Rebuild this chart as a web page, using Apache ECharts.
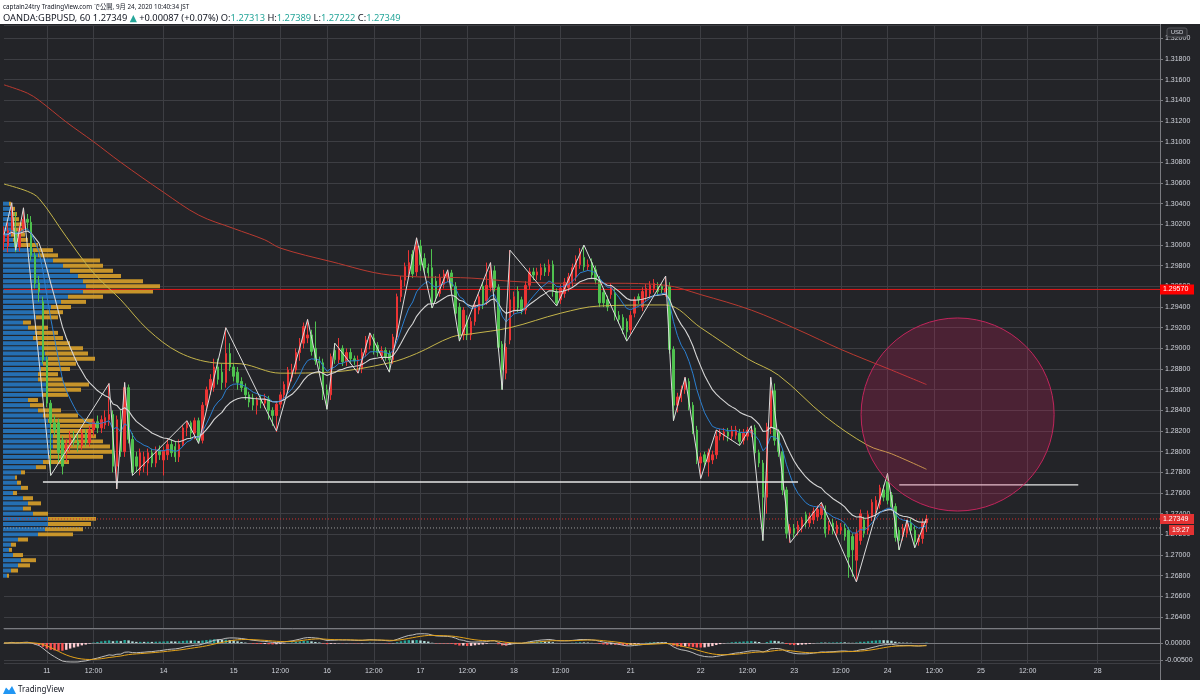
<!DOCTYPE html>
<html><head><meta charset="utf-8">
<script src="https://cdn.jsdelivr.net/npm/echarts/dist/echarts.min.js"></script>
<style>html,body{margin:0;padding:0;background:#fff}#c{width:1200px;height:700px}</style>
</head><body><div id="c"></div>
<script>
// ---------- DATA ----------
const barCount = 298; // hourly slots incl. future space
const tickLabels = [[11,'11'],[23,'12:00'],[41,'14'],[59,'15'],[71,'12:00'],[83,'16'],[95,'12:00'],[107,'17'],[119,'12:00'],[131,'18'],[143,'12:00'],[161,'21'],[179,'22'],[191,'12:00'],[203,'23'],[215,'12:00'],[227,'24'],[239,'12:00'],[251,'25'],[263,'12:00'],[281,'28']];
// [open, close, low, high]
const ohlc = [
[1.3003,1.3010,1.2995,1.3018],[1.2999,1.3014,1.2993,1.3022],[1.3014,1.3030,1.3010,1.3041],[1.3013,1.2998,1.2993,1.3032],[1.2998,1.3016,1.2994,1.3020],
[1.3016,1.3025,1.3012,1.3036],[1.3025,1.3022,1.3015,1.3030],[1.3022,1.2990,1.2985,1.3028],[1.2990,1.2963,1.2958,1.2993],[1.2963,1.2955,1.2945,1.2970],
[1.2945,1.2889,1.2885,1.2950],[1.2889,1.2847,1.2843,1.2892],[1.2847,1.2828,1.2777,1.2850],[1.2828,1.2821,1.2815,1.2835],[1.2828,1.2799,1.2790,1.2832],
[1.2811,1.2786,1.2778,1.2815],[1.2799,1.2808,1.2790,1.2812],[1.2805,1.2814,1.2800,1.2820],[1.2814,1.2810,1.2805,1.2820],[1.2810,1.2806,1.2800,1.2818],
[1.2806,1.2818,1.2802,1.2822],[1.2818,1.2809,1.2805,1.2822],[1.2809,1.2821,1.2805,1.2825],[1.2821,1.2829,1.2815,1.2832],[1.2829,1.2823,1.2818,1.2835],
[1.2823,1.2831,1.2818,1.2835],[1.2826,1.2833,1.2822,1.2840],[1.2831,1.2836,1.2825,1.2866],[1.2836,1.2786,1.2780,1.2840],[1.2786,1.2831,1.2764,1.2835],
[1.2831,1.2800,1.2795,1.2840],[1.2800,1.2862,1.2795,1.2867],[1.2862,1.2812,1.2808,1.2865],[1.2812,1.2780,1.2777,1.2818],[1.2795,1.2786,1.2780,1.2800],
[1.2782,1.2799,1.2777,1.2803],[1.2786,1.2795,1.2780,1.2800],[1.2789,1.2799,1.2777,1.2803],[1.2799,1.2789,1.2785,1.2803],[1.2789,1.2801,1.2785,1.2805],
[1.2801,1.2797,1.2792,1.2806],[1.2792,1.2801,1.2777,1.2805],[1.2797,1.2807,1.2792,1.2812],[1.2807,1.2799,1.2795,1.2812],[1.2805,1.2795,1.2790,1.2810],
[1.2795,1.2807,1.2790,1.2812],[1.2807,1.2823,1.2805,1.2826],[1.2823,1.2828,1.2815,1.2830],[1.2828,1.2818,1.2812,1.2830],[1.2818,1.2830,1.2812,1.2833],
[1.2830,1.2811,1.2808,1.2833],[1.2811,1.2845,1.2808,1.2848],[1.2845,1.2860,1.2840,1.2863],[1.2860,1.2870,1.2855,1.2875],[1.2862,1.2882,1.2858,1.2890],
[1.2882,1.2870,1.2865,1.2890],[1.2877,1.2867,1.2860,1.2885],[1.2867,1.2895,1.2862,1.2920],[1.2895,1.2882,1.2878,1.2905],[1.2882,1.2873,1.2868,1.2885],
[1.2877,1.2867,1.2860,1.2882],[1.2868,1.2862,1.2858,1.2872],[1.2862,1.2855,1.2850,1.2866],[1.2855,1.2848,1.2843,1.2858],[1.2852,1.2845,1.2840,1.2856],
[1.2845,1.2850,1.2836,1.2853],[1.2850,1.2847,1.2842,1.2855],[1.2847,1.2851,1.2842,1.2856],[1.2851,1.2840,1.2831,1.2854],[1.2840,1.2835,1.2825,1.2843],
[1.2835,1.2846,1.2819,1.2848],[1.2846,1.2855,1.2842,1.2858],[1.2855,1.2865,1.2850,1.2868],[1.2860,1.2879,1.2856,1.2882],[1.2872,1.2879,1.2868,1.2885],
[1.2879,1.2896,1.2875,1.2900],[1.2896,1.2905,1.2888,1.2910],[1.2905,1.2921,1.2900,1.2925],[1.2910,1.2913,1.2905,1.2928],[1.2913,1.2897,1.2893,1.2918],
[1.2900,1.2888,1.2884,1.2926],[1.2888,1.2886,1.2880,1.2892],[1.2886,1.2856,1.2850,1.2890],[1.2860,1.2855,1.2841,1.2865],[1.2855,1.2892,1.2850,1.2895],
[1.2898,1.2889,1.2885,1.2905],[1.2889,1.2900,1.2885,1.2910],[1.2900,1.2887,1.2883,1.2903],[1.2887,1.2896,1.2883,1.2900],[1.2896,1.2890,1.2886,1.2900],
[1.2890,1.2888,1.2884,1.2893],[1.2888,1.2889,1.2876,1.2893],[1.2880,1.2896,1.2876,1.2900],[1.2896,1.2908,1.2892,1.2912],[1.2903,1.2913,1.2899,1.2915],
[1.2910,1.2898,1.2894,1.2914],[1.2903,1.2896,1.2892,1.2906],[1.2893,1.2898,1.2889,1.2902],[1.2898,1.2892,1.2888,1.2901],[1.2895,1.2889,1.2877,1.2898],
[1.2889,1.2911,1.2885,1.2914],[1.2911,1.2950,1.2908,1.2953],[1.2950,1.2966,1.2945,1.2970],[1.2966,1.2979,1.2960,1.2983],[1.2975,1.2983,1.2970,1.2995],
[1.2991,1.2972,1.2968,1.2995],[1.2974,1.2999,1.2970,1.3007],[1.2999,1.2981,1.2975,1.3005],[1.2987,1.2978,1.2972,1.2992],[1.2978,1.2973,1.2968,1.2982],
[1.2978,1.2944,1.2939,1.2996],[1.2965,1.2950,1.2945,1.2970],[1.2953,1.2968,1.2950,1.2972],[1.2962,1.2972,1.2958,1.2976],[1.2968,1.2973,1.2964,1.2976],
[1.2973,1.2960,1.2955,1.2976],[1.2960,1.2934,1.2930,1.2964],[1.2940,1.2913,1.2907,1.2944],[1.2913,1.2937,1.2908,1.2940],[1.2927,1.2913,1.2908,1.2932],
[1.2913,1.2926,1.2908,1.2930],[1.2926,1.2942,1.2922,1.2946],[1.2937,1.2950,1.2933,1.2953],[1.2960,1.2943,1.2938,1.2964],[1.2946,1.2961,1.2942,1.2983],
[1.2959,1.2975,1.2955,1.2983],[1.2975,1.2959,1.2955,1.2980],[1.2959,1.2901,1.2897,1.2962],[1.2904,1.2879,1.2860,1.2907],[1.2876,1.2901,1.2870,1.2905],
[1.2908,1.2947,1.2904,1.2995],[1.2937,1.2950,1.2933,1.2955],[1.2955,1.2939,1.2935,1.2960],[1.2947,1.2937,1.2933,1.2950],[1.2937,1.2961,1.2933,1.2965],
[1.2961,1.2974,1.2957,1.2978],[1.2974,1.2971,1.2966,1.2978],[1.2971,1.2974,1.2966,1.2978],[1.2971,1.2978,1.2966,1.2982],[1.2978,1.2974,1.2970,1.2982],
[1.2974,1.2981,1.2970,1.2986],[1.2981,1.2955,1.2950,1.2985],[1.2955,1.2944,1.2941,1.2958],[1.2947,1.2958,1.2943,1.2962],[1.2953,1.2964,1.2949,1.2968],
[1.2959,1.2969,1.2955,1.2973],[1.2964,1.2978,1.2960,1.2982],[1.2969,1.2986,1.2965,1.2990],[1.2981,1.2993,1.2977,1.2997],[1.2988,1.2979,1.2975,1.3000],
[1.2979,1.2981,1.2975,1.2986],[1.2983,1.2971,1.2967,1.2987],[1.2976,1.2966,1.2962,1.2980],[1.2966,1.2944,1.2940,1.2970],[1.2954,1.2944,1.2940,1.2958],
[1.2947,1.2940,1.2936,1.2951],[1.2952,1.2959,1.2948,1.2963],[1.2954,1.2931,1.2927,1.2958],[1.2932,1.2928,1.2924,1.2936],[1.2930,1.2918,1.2914,1.2933],
[1.2926,1.2916,1.2907,1.2929],[1.2918,1.2932,1.2914,1.2936],[1.2934,1.2947,1.2930,1.2950],[1.2950,1.2947,1.2943,1.2953],[1.2940,1.2955,1.2936,1.2959],
[1.2950,1.2958,1.2946,1.2962],[1.2953,1.2961,1.2949,1.2965],[1.2958,1.2963,1.2954,1.2967],[1.2960,1.2955,1.2951,1.2964],[1.2960,1.2957,1.2953,1.2963],
[1.2954,1.2958,1.2950,1.2970],[1.2960,1.2899,1.2895,1.2964],[1.2899,1.2845,1.2830,1.2902],[1.2845,1.2853,1.2838,1.2857],[1.2852,1.2860,1.2848,1.2864],
[1.2860,1.2869,1.2856,1.2872],[1.2868,1.2845,1.2840,1.2871],[1.2845,1.2821,1.2817,1.2848],[1.2821,1.2792,1.2788,1.2825],[1.2789,1.2795,1.2774,1.2799],
[1.2797,1.2790,1.2786,1.2800],[1.2790,1.2799,1.2776,1.2803],[1.2792,1.2797,1.2788,1.2801],[1.2797,1.2815,1.2793,1.2821],[1.2815,1.2818,1.2811,1.2822],
[1.2815,1.2819,1.2811,1.2823],[1.2819,1.2815,1.2810,1.2823],[1.2815,1.2821,1.2811,1.2825],[1.2816,1.2821,1.2812,1.2825],[1.2818,1.2810,1.2806,1.2822],
[1.2811,1.2818,1.2807,1.2822],[1.2815,1.2821,1.2811,1.2824],[1.2818,1.2821,1.2814,1.2825],[1.2823,1.2799,1.2795,1.2826],[1.2799,1.2789,1.2785,1.2802],
[1.2789,1.2756,1.2714,1.2792],[1.2756,1.2824,1.2740,1.2828],[1.2824,1.2859,1.2817,1.2872],[1.2859,1.2811,1.2806,1.2866],[1.2818,1.2800,1.2795,1.2822],
[1.2800,1.2763,1.2758,1.2803],[1.2763,1.2721,1.2716,1.2766],[1.2721,1.2726,1.2712,1.2730],[1.2726,1.2721,1.2717,1.2730],[1.2724,1.2729,1.2719,1.2733],
[1.2727,1.2734,1.2722,1.2737],[1.2739,1.2731,1.2727,1.2742],[1.2731,1.2737,1.2727,1.2741],[1.2734,1.2742,1.2730,1.2746],[1.2737,1.2744,1.2733,1.2748],
[1.2739,1.2748,1.2735,1.2751],[1.2744,1.2721,1.2717,1.2748],[1.2724,1.2729,1.2720,1.2733],[1.2731,1.2724,1.2720,1.2735],[1.2721,1.2729,1.2717,1.2733],
[1.2724,1.2727,1.2720,1.2731],[1.2726,1.2718,1.2714,1.2730],[1.2724,1.2698,1.2678,1.2727],[1.2718,1.2705,1.2679,1.2721],[1.2695,1.2721,1.2674,1.2725],
[1.2714,1.2740,1.2710,1.2744],[1.2734,1.2721,1.2717,1.2737],[1.2724,1.2739,1.2720,1.2743],[1.2737,1.2751,1.2733,1.2754],[1.2744,1.2753,1.2740,1.2757],
[1.2749,1.2765,1.2745,1.2768],[1.2763,1.2756,1.2752,1.2768],[1.2771,1.2753,1.2749,1.2779],[1.2758,1.2747,1.2743,1.2761],[1.2747,1.2717,1.2713,1.2750],
[1.2724,1.2714,1.2705,1.2727],[1.2718,1.2726,1.2714,1.2730],[1.2721,1.2731,1.2717,1.2734],[1.2731,1.2724,1.2720,1.2735],[1.2724,1.2713,1.2707,1.2729],
[1.2713,1.2716,1.2709,1.2720],[1.2716,1.2731,1.2711,1.2735],[1.27313,1.27349,1.27222,1.27389]
];
// zigzag swing points [barIndex, price]
const zigzag = [[0,1.3010],[2,1.3041],[3,1.2995],[5,1.3036],[12,1.2777],[27,1.2866],[29,1.2764],[31,1.2867],[33,1.2777],[47,1.2830],[50,1.2808],[57,1.2920],[70,1.2820],[78,1.2928],[83,1.2841],[85,1.2905],[91,1.2876],[94,1.2915],[99,1.2877],[106,1.3007],[110,1.2939],[114,1.2976],[117,1.2907],[125,1.2983],[128,1.2860],[130,1.2995],[142,1.2941],[149,1.3000],[160,1.2907],[170,1.2970],[172,1.2830],[175,1.2872],[179,1.2774],[183,1.2821],[189,1.2806],[192,1.2825],[195,1.2714],[197,1.2872],[202,1.2712],[210,1.2751],[219,1.2674],[227,1.2779],[230,1.2705],[232,1.2734],[234,1.2707],[237,1.2735]];
// long moving averages [barIndex, price]
const maRed = [[0,1.3155],[6,1.3147],[9,1.3140],[16,1.3119],[23,1.3100],[30,1.3080],[41,1.3051],[50,1.3029],[59,1.3016],[67,1.3005],[71,1.2997],[84,1.2984],[99,1.2971],[120,1.2968],[130,1.2965],[143,1.2963],[156,1.2963],[170,1.2961],[179,1.2952],[192,1.2937],[204,1.2918],[215,1.2899],[228,1.2879],[237,1.2865]];
const maYellow = [[0,1.3059],[6,1.3052],[9,1.3045],[16,1.3008],[23,1.2973],[30,1.2947],[37,1.2918],[45,1.2896],[54,1.2886],[61,1.2885],[71,1.2876],[84,1.2877],[99,1.2886],[106,1.2895],[115,1.2911],[120,1.2914],[130,1.2920],[143,1.2934],[153,1.2941],[170,1.2942],[179,1.2920],[191,1.2890],[199,1.2874],[211,1.2834],[222,1.2806],[228,1.2798],[237,1.2783]];
// volume profile rows
const vpPrices = [1.3040,1.3035,1.3030,1.3025,1.3020,1.3015,1.3010,1.3005,1.3000,1.2995,1.2990,1.2985,1.2980,1.2975,1.2970,1.2965,1.2960,1.2955,1.2950,1.2945,1.2940,1.2935,1.2930,1.2925,1.2920,1.2915,1.2910,1.2905,1.2900,1.2895,1.2890,1.2885,1.2880,1.2875,1.2870,1.2865,1.2860,1.2855,1.2850,1.2845,1.2840,1.2835,1.2830,1.2825,1.2820,1.2815,1.2810,1.2805,1.2800,1.2795,1.2790,1.2785,1.2780,1.2775,1.2770,1.2765,1.2760,1.2755,1.2750,1.2745,1.2740,1.2735,1.2730,1.2725,1.2720,1.2715,1.2710,1.2705,1.2700,1.2695,1.2690,1.2685,1.2680];
const vpUp = [6,8,9,10,8,8,8,10,15,30,35,50,60,67,75,80,83,80,65,58,48,40,33,20,25,32,30,35,40,42,45,40,38,35,35,45,45,40,25,27,35,40,45,48,48,50,50,50,48,46,40,33,18,12,14,18,10,20,25,20,30,45,45,42,35,15,8,6,10,18,15,8,4];
const vpDown = [2,4,5,6,12,12,14,15,20,20,20,47,40,43,43,60,74,70,35,25,20,20,22,8,20,23,30,32,40,43,47,33,29,20,25,41,33,25,10,13,23,35,45,48,42,43,50,57,62,54,26,10,4,2,4,7,4,10,13,8,15,48,43,38,35,10,5,3,10,15,12,7,2];
// drawings
const hLines = [[10,204,1.27707],[230,276,1.27678]]; // [fromBar, toBar, price]
const levelPrice = 1.29570;
const lastPrice = 1.27349;
const bidLine = 1.27262;
const circleMark = [245, 1.2836, 0.00934]; // [centerBar, centerPrice, radius in price]
const countdown = '19:27';
const header1 = 'captain24try TradingView.com で公開, 9月 24, 2020 10:40:34 JST';
const hdr = {sym:'OANDA:GBPUSD, 60 1.27349 ', chg:' +0.00087 (+0.07%) ', o:'1.27313', h:'1.27389', l:'1.27222', c:'1.27349'};

// ---------- BUILD ----------
const yMin = 1.26294, yMax = 1.32129;
const cats = Array.from({length: barCount}, (_, i) => String(i));
const labelMap = {}; tickLabels.forEach(([i, t]) => { labelMap[i] = t; });
const closes = ohlc.map(d => d[1]);
function ema(src, n){ const k = 2/(n+1); let e = src[0]; return src.map((v,i)=>{ if(i>0) e = e + k*(v-e); return e; }); }
const ema20 = ema(closes, 20), ema10 = ema(closes, 10);
const e12 = ema(closes, 12), e26 = ema(closes, 26);
const macd = e12.map((v,i)=> v - e26[i]);
const signal = ema(macd, 9);
const hist = macd.map((v,i)=> v - signal[i]);
const histData = hist.map((h,i)=>{
  const prev = i>0 ? hist[i-1] : h;
  let col;
  if (h >= 0) col = h >= prev ? '#26a69a' : '#b2dfdb';
  else col = h <= prev ? '#ff5252' : '#ffcdd2';
  return {value: h, itemStyle: {color: col}};
});
const gridColor = '#3d3e43';
const axisColor = '#7a7b80';
const txtColor = '#d1d4dc';
const isTick = (i) => labelMap[i] !== undefined;

const series = [
  { type:'custom', name:'vp', xAxisIndex:2, yAxisIndex:2, z:1, clip:false,
    data: vpPrices.map((p,i)=>[p, vpUp[i], vpDown[i]]),
    renderItem: (params, api) => {
      const p = api.value(0), up = api.value(1), dn = api.value(2);
      const y0 = api.coord([0, p + 0.00025])[1] + 0.6, y1 = api.coord([0, p - 0.00025])[1] - 0.6;
      const x0 = api.coord([0, p])[0], x1 = api.coord([up, p])[0], x2 = api.coord([up + dn, p])[0];
      return { type:'group', children:[
        {type:'rect', shape:{x:x0, y:y0, width:x1-x0, height:y1-y0}, style:{fill:'rgba(38,118,190,0.92)'}},
        {type:'rect', shape:{x:x1, y:y0, width:x2-x1, height:y1-y0}, style:{fill:'rgba(214,158,42,0.92)'}}
      ]};
    }
  },
  { type:'line', data:[[0,levelPrice],[barCount-1,levelPrice]], symbol:'none', lineStyle:{color:'#e01818', width:1}, z:2, silent:true },
  { type:'line', data:[[0,lastPrice],[barCount-1,lastPrice]], symbol:'none', lineStyle:{color:'#d03030', width:1, type:[1,2]}, z:2 },
  { type:'line', data:[[0,bidLine],[barCount-1,bidLine]], symbol:'none', lineStyle:{color:'#9a9a9a', width:1, type:[1,2]}, z:2 },
  { type:'candlestick', data: ohlc, barMaxWidth: 2.8, z:3,
    itemStyle:{color:'#ea3434', color0:'#4fc24f', borderColor:'#ea3434', borderColor0:'#4fc24f', borderWidth:1} },
  { type:'line', data: maRed, smooth:0.35, symbol:'none', lineStyle:{color:'#b93a30', width:1}, z:4 },
  { type:'line', data: maYellow, smooth:0.35, symbol:'none', lineStyle:{color:'#c4b44a', width:1}, z:4 },
  { type:'line', data: ema20.map((v,i)=>[i,v]), symbol:'none', lineStyle:{color:'#d6d6d6', width:1.1}, z:4 },
  { type:'line', data: ema10.map((v,i)=>[i,v]), symbol:'none', lineStyle:{color:'#2b7fd0', width:1}, z:4 },
  { type:'line', data: zigzag, symbol:'none', lineStyle:{color:'#dcdcdc', width:1}, z:5 }
];
hLines.forEach(h => series.push({ type:'line', data:[[h[0],h[2]],[h[1],h[2]]], symbol:'none', lineStyle:{color:'#e6e6e6', width:1.3}, z:5 }));
series.push({ type:'custom', xAxisIndex:0, yAxisIndex:0, z:6, clip:false, data:[circleMark],
  renderItem: (params, api) => {
    const c = api.coord([api.value(0), api.value(1)]);
    const r = api.size([0, api.value(2)])[1];
    return {type:'circle', shape:{cx:c[0], cy:c[1], r:r}, style:{fill:'rgba(233,30,99,0.2)', stroke:'#c2255c', lineWidth:1}};
  }});
series.push({ type:'bar', xAxisIndex:1, yAxisIndex:1, data: histData, barWidth: 2.4, z:2 });
series.push({ type:'line', xAxisIndex:1, yAxisIndex:1, data: macd, symbol:'none', lineStyle:{color:'#bdbdbd', width:1}, z:3 });
series.push({ type:'line', xAxisIndex:1, yAxisIndex:1, data: signal, symbol:'none', lineStyle:{color:'#e3a21a', width:1}, z:3 });

const xCommon = (gi, showLabel) => ({
  type:'category', gridIndex: gi, data: cats, boundaryGap: false,
  axisLine:{show:true, lineStyle:{color:axisColor}}, axisTick:{show:false},
  axisLabel: showLabel ? {show:true, interval:(i)=>isTick(i), formatter:(v,i)=>labelMap[i]||'', color:txtColor, fontSize:7, margin:5, fontFamily:'Liberation Sans'} : {show:false},
  splitLine:{show:true, interval:(i)=>isTick(i), lineStyle:{color:gridColor, width:1}}
});

const option = {
  backgroundColor:'#232428',
  animation:false,
  grid:[
    {left:4, right:40, top:25, bottom:72, outerBoundsMode:'none', containLabel:false},
    {left:4, right:40, top:629, bottom:37, outerBoundsMode:'none', containLabel:false},
    {left:3, right:40, top:25, bottom:72, outerBoundsMode:'none', containLabel:false}
  ],
  xAxis:[ xCommon(0,false), xCommon(1,true), {type:'value', gridIndex:2, min:0, max:1157, show:false} ],
  yAxis:[
    {type:'value', gridIndex:0, position:'right', min:yMin, max:yMax, minInterval:0.002, maxInterval:0.002,
     axisLine:{show:true, lineStyle:{color:axisColor}}, axisTick:{show:true, length:3, lineStyle:{color:axisColor}},
     axisLabel:{formatter:(v)=>v.toFixed(5), color:txtColor, fontSize:7, margin:5, showMinLabel:false, showMaxLabel:false, fontFamily:'Liberation Sans'},
     splitLine:{show:true, lineStyle:{color:gridColor, width:1}}},
    {type:'value', gridIndex:1, position:'right', min:-0.00588, max:0.00412, minInterval:0.005, maxInterval:0.005,
     axisLine:{show:true, lineStyle:{color:axisColor}}, axisTick:{show:true, length:3, lineStyle:{color:axisColor}},
     axisLabel:{formatter:(v)=>v.toFixed(5), color:txtColor, fontSize:7, margin:5, showMinLabel:false, showMaxLabel:false, fontFamily:'Liberation Sans'},
     splitLine:{show:true, lineStyle:{color:gridColor, width:1}}},
    {type:'value', gridIndex:2, min:yMin, max:yMax, show:false}
  ],
  series: series
};

const chart = echarts.init(document.getElementById('c'), null, {width:1200, height:700});
chart.setOption(option);

const yp = v => chart.convertToPixel({yAxisIndex:0}, v);
const yLevel = yp(levelPrice), yLast = yp(lastPrice);
const fontF = '"Noto Sans","DejaVu Sans","Noto Sans CJK JP"';
const tag = (y, text, fill, x, w) => ([
  {type:'rect', shape:{x:x, y:y-5, width:w, height:10}, style:{fill:fill}, z:60},
  {type:'text', x:x+3, y:y, style:{text:text, fill:'#ffffff', fontSize:7, fontFamily:'Liberation Sans', verticalAlign:'middle'}, z:61}
]);
const graphics = [
  {type:'rect', shape:{x:0,y:0,width:1200,height:24}, style:{fill:'#ffffff'}, z:100},
  {type:'rect', shape:{x:0,y:680,width:1200,height:20}, style:{fill:'#ffffff'}, z:100},
  {type:'line', shape:{x1:1160.5,y1:24,x2:1160.5,y2:680}, style:{stroke:axisColor, lineWidth:1}, z:50},
  {type:'text', x:3, y:7, z:101, style:{text:header1, fill:'#131722', fontSize:6.3, fontFamily:fontF, verticalAlign:'middle'}},
  {type:'text', x:3, y:18, z:101, style:{
    text:'{k|'+hdr.sym+'}{t|▲}{k|'+hdr.chg+'O:}{t|'+hdr.o+'}{k| H:}{t|'+hdr.h+'}{k| L:}{t|'+hdr.l+'}{k| C:}{t|'+hdr.c+'}',
    verticalAlign:'middle',
    rich:{k:{fill:'#131722', fontSize:9.3, fontFamily:fontF}, t:{fill:'#26a69a', fontSize:9.3, fontFamily:fontF}}}},
  {type:'polygon', z:101, shape:{points:[[3,694],[6,687.5],[9,690.5],[12,686],[16,694]]}, style:{fill:'#2196f3'}},
  {type:'text', x:18, y:690, z:101, style:{text:'TradingView', fill:'#131722', fontSize:8, fontFamily:fontF, verticalAlign:'middle'}},
  {type:'rect', shape:{x:1167, y:28, width:20, height:9, r:2}, style:{fill:'#2c2d32', stroke:'#55565b', lineWidth:1}, z:60},
  {type:'text', x:1177, y:32.5, z:61, style:{text:'USD', fill:txtColor, fontSize:6, fontFamily:'Liberation Sans', align:'center', verticalAlign:'middle'}}
].concat(tag(yLevel, levelPrice.toFixed(5), '#ff0000', 1160, 34))
 .concat(tag(yLast, lastPrice.toFixed(5), '#e33232', 1160, 34))
 .concat(tag(yLast + 11, countdown, '#e33232', 1169, 25));
chart.setOption({graphic: graphics});
</script>
</body></html>
